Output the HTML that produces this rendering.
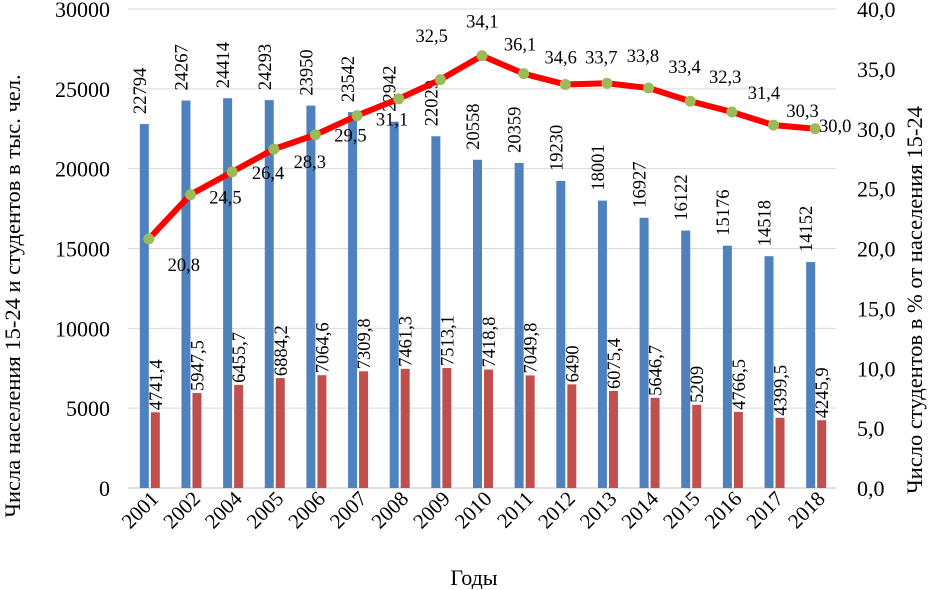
<!DOCTYPE html>
<html><head><meta charset="utf-8"><style>
body{margin:0;background:#fff}
svg{display:block;font-family:"Liberation Serif",serif}
</style></head><body>
<svg id="c" width="929" height="590"></svg>
<script>
const years=["2001","2002","2004","2005","2006","2007","2008","2009","2010","2011","2012","2013","2014","2015","2016","2017","2018"];
const population=[22794,24267,24414,24293,23950,23542,22942,22029,20558,20359,19230,18001,16927,16122,15176,14518,14152];
const populationLabels=["22794","24267","24414","24293","23950","23542","22942","22029","20558","20359","19230","18001","16927","16122","15176","14518","14152"];
const students=[4741.4,5947.5,6455.7,6884.2,7064.6,7309.8,7461.3,7513.1,7418.8,7049.8,6490,6075.4,5646.7,5209,4766.5,4399.5,4245.9];
const studentLabels=["4741,4","5947,5","6455,7","6884,2","7064,6","7309,8","7461,3","7513,1","7418,8","7049,8","6490","6075,4","5646,7","5209","4766,5","4399,5","4245,9"];
const share=[20.8,24.5,26.4,28.3,29.5,31.1,32.5,34.1,36.1,34.6,33.7,33.8,33.4,32.3,31.4,30.3,30.0];
const shareLabels=["20,8","24,5","26,4","28,3","29,5","31,1","32,5","34,1","36,1","34,6","33,7","33,8","33,4","32,3","31,4","30,3","30,0"];
const leftTicks=[0,5000,10000,15000,20000,25000,30000];
const rightTicks=["0,0","5,0","10,0","15,0","20,0","25,0","30,0","35,0","40,0"];

const NS="http://www.w3.org/2000/svg",svg=document.getElementById('c');
const L=128,R=836,T=9,B=488;
const step=(R-L)/years.length;
const xc=i=>L+step*(i+0.5);
const yL=v=>B-v/30000*(B-T);
const yR=v=>B-v/40*(B-T);
function el(t,a,p){const e=document.createElementNS(NS,t);for(const k in a)e.setAttribute(k,a[k]);(p||svg).appendChild(e);return e;}
function txt(s,a){const e=el('text',a);e.textContent=s;return e;}

leftTicks.forEach((v,i)=>{
  const g=el('line',{x1:L,x2:R,y1:yL(v),y2:yL(v),stroke:i==0?'#bfbfbf':'#d9d9d9','stroke-width':1});
  
  
  const t=txt(String(v),{x:110,y:yL(v)+8,'text-anchor':'end','font-size':22});
  
  
});
rightTicks.forEach((s,i)=>{
  const t=txt(s,{x:857,y:yR(i*5)+8,'font-size':22});
  
  
});
years.forEach((y,i)=>{
  const x=xc(i);
  const b=el('rect',{x:x-9,y:yL(population[i]),width:9,height:B-yL(population[i]),fill:'#4f81bd'});
  
  
  const r=el('rect',{x:x+2,y:yL(students[i]),width:9,height:B-yL(students[i]),fill:'#c0504d'});
  
  
  const pb=yL(population[i])-10;
  const t1=txt(populationLabels[i],{x:0,y:0,'font-size':18.5,transform:`translate(${x-3},${pb}) rotate(-90)`});
  
  
  const sb=yL(students[i])-2;
  const t2=txt(studentLabels[i],{x:0,y:0,'font-size':18.5,transform:`translate(${x+13},${sb}) rotate(-90)`});
  
  
  const xl=txt(y,{x:0,y:0,'font-size':21,'text-anchor':'end',transform:`translate(${x+11},${500}) rotate(-45)`});
  
  
});
const line=el('polyline',{points:share.map((v,i)=>xc(i)+','+yR(v)).join(' '),fill:'none',stroke:'#ff0000','stroke-width':6,'stroke-linejoin':'round'});


const offs=[[35,26],[35,3],[36,1],[36,13],[35,1],[35,4],[33,-63],[42,-58],[38,-11],[37,-16],[36,-27],[36,-27],[36,-21],[35,-24],[32,-19],[29,-14],[20,-3]];
share.forEach((v,i)=>{
  const c=el('circle',{cx:xc(i),cy:yR(v),r:5.5,fill:'#9bbb59'});
  
  
  const t=txt(shareLabels[i],{x:xc(i)+offs[i][0],y:yR(v)+offs[i][1]+6,'font-size':18.5,'text-anchor':'middle'});
  
  
});
</script>
<div style="position:absolute;left:0;top:0;width:929px;height:590px;pointer-events:none">
<svg width="929" height="590" style="position:absolute;left:0;top:0">
<text x="0" y="0" font-size="22.5" text-anchor="middle" transform="translate(20,296) rotate(-90)" font-family="Liberation Serif, serif">Числа населения 15-24 и студентов в тыс. чел.</text>
<text x="0" y="0" font-size="22.5" text-anchor="middle" transform="translate(922,300) rotate(-90)" font-family="Liberation Serif, serif">Число студентов в % от населения 15-24</text>
<text x="474" y="585" font-size="22" text-anchor="middle" font-family="Liberation Serif, serif">Годы</text>
</svg></div>
</body></html>
